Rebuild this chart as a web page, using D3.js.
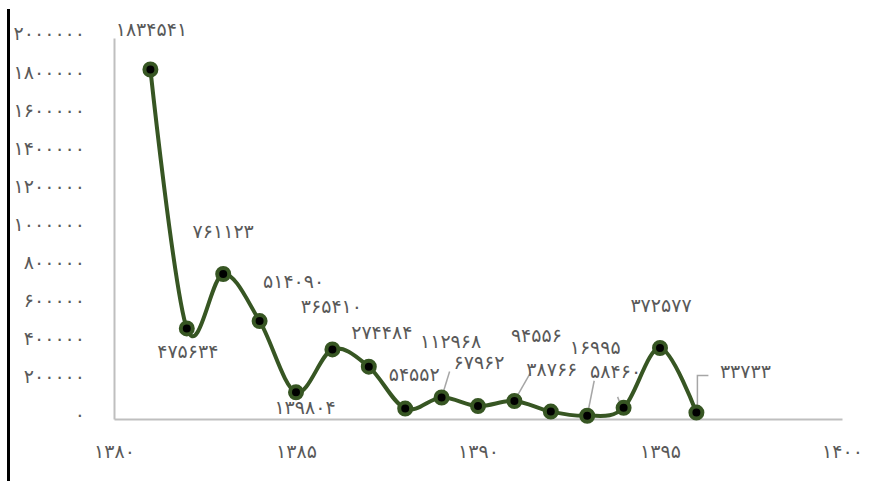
<!DOCTYPE html>
<html>
<head>
<meta charset="utf-8">
<script src="https://cdn.jsdelivr.net/npm/d3@7"></script>
<style>
  html, body { margin: 0; padding: 0; background: #fff; }
  svg { display: block; }
  text { font-family: "DejaVu Sans", sans-serif; fill: #595959; }
</style>
</head>
<body>
<svg id="chart" width="885" height="481"></svg>
<script>
// ---- data ----
const years  = [1381, 1382, 1383, 1384, 1385, 1386, 1387, 1388, 1389, 1390, 1391, 1392, 1393, 1394, 1395, 1396];
const values = [1834541, 475634, 761123, 514090, 139804, 365410, 274484, 54552, 112968, 67962, 94556, 38766, 16995, 58460, 372577, 33733];
const xTicks = [1380, 1385, 1390, 1395, 1400];
const yTicks = [0, 200000, 400000, 600000, 800000, 1000000, 1200000, 1400000, 1600000, 1800000, 2000000];

// label placement (layout only): offset of label centre from point, and optional leader end
const labelOffsets = [
  [1, -41], [1, 23], [0, -43], [34, -40], [9, 15], [-1, -43], [13, -35], [9, -35],
  [9, -56], [1, -44], [22, -66], [1, -43], [8, -69], [-8, -37], [1, -43], [49, -42]
];
const leaders = { 8: [[0, 0], [8, -26]], 10: [[0, 0], [16, -28]], 12: [[0, 0], [7, -35]], 13: [[-3, -3], [-6, -11]], 15: [[1, 0], [1, -37], [12, -37]] };

const fa = s => String(s).replace(/\d/g, d => "۰۱۲۳۴۵۶۷۸۹"[+d]);
const FS = 19;

const svg = d3.select("#chart");
const x = d3.scaleLinear().domain([1380, 1400]).range([114, 842]);
const y = d3.scaleLinear().domain([0, 2000000]).range([419, 38]);

// left black border
svg.append("line").attr("x1", 8.5).attr("x2", 8.5).attr("y1", 9).attr("y2", 481)
  .attr("stroke", "#000").attr("stroke-width", 3);

// axes
const yAxis = svg.append("g").attr("transform", "translate(114,0)")
  .call(d3.axisLeft(y).tickValues(yTicks).tickSize(0).tickPadding(29).tickFormat(fa));
yAxis.select(".domain").attr("stroke", "#bfbfbf").attr("stroke-width", 2);
yAxis.selectAll("text").attr("font-size", FS).attr("fill", "#595959").attr("dy", "0.1em")
  .style("font-family", '"DejaVu Sans", sans-serif');

const xAxis = svg.append("g").attr("transform", "translate(0,419)")
  .call(d3.axisBottom(x).tickValues(xTicks).tickSize(0).tickPadding(26).tickFormat(fa));
xAxis.select(".domain").attr("stroke", "#bfbfbf").attr("stroke-width", 2);
xAxis.selectAll("text").attr("font-size", FS).attr("fill", "#595959")
  .style("font-family", '"DejaVu Sans", sans-serif');

// line
const line = d3.line().x((d, i) => x(years[i])).y(d => y(d)).curve(d3.curveCatmullRom.alpha(0));
svg.append("path").datum(values).attr("d", line)
  .attr("fill", "none").attr("stroke", "#375623").attr("stroke-width", 4).attr("stroke-linejoin", "round");

// leader lines
Object.entries(leaders).forEach(([i, pts]) => {
  const px = x(years[+i]), py = y(values[+i]);
  svg.append("path")
    .attr("d", d3.line()(pts.map(p => [px + p[0], py + p[1]])))
    .attr("fill", "none").attr("stroke", "#a6a6a6").attr("stroke-width", 1.5);
});

// markers
svg.append("g").selectAll("circle").data(values).join("circle")
  .attr("cx", (d, i) => x(years[i])).attr("cy", d => y(d)).attr("r", 6)
  .attr("fill", "#000").attr("stroke", "#375623").attr("stroke-width", 4);

// data labels
svg.append("g").selectAll("text").data(values).join("text")
  .attr("x", (d, i) => x(years[i]) + labelOffsets[i][0])
  .attr("y", (d, i) => y(d) + labelOffsets[i][1])
  .attr("text-anchor", "middle").attr("dominant-baseline", "central")
  .attr("font-size", FS)
  .text(d => fa(d));
</script>
</body>
</html>
